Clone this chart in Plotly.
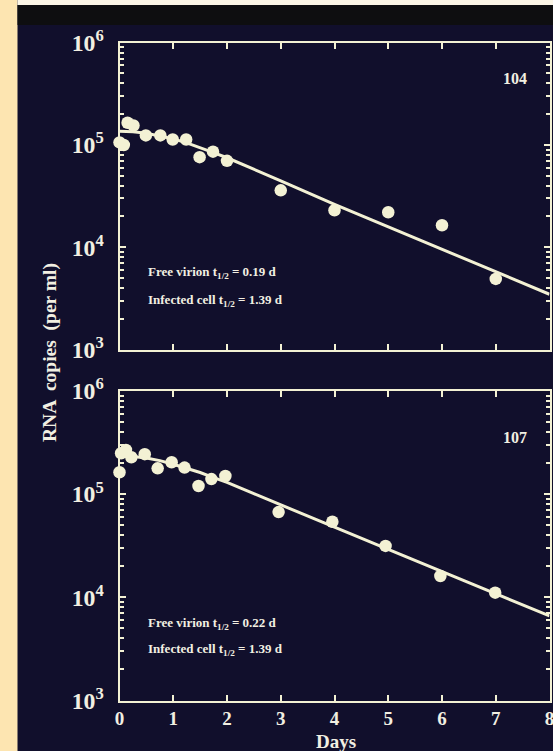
import plotly.graph_objects as go

# ---------------- data ----------------
days_104 = [0.0, 0.08, 0.15, 0.26, 0.49, 0.76, 0.99, 1.24, 1.49, 1.74, 2.0, 3.0, 4.0, 5.0, 6.0, 7.0]
rna_104 = [106000, 100000, 165000, 155000, 124000, 124000, 113000, 113000, 76000, 86000, 70000,
           36000, 23000, 22000, 16400, 4900]

fit_days_104 = [0, 0.25, 0.5, 0.75, 1.0, 1.25, 1.5, 1.75, 2.0, 2.5, 3, 4, 5, 6, 7, 8]
fit_log_104 = [5.135, 5.13, 5.115, 5.09, 5.06, 5.02, 4.975, 4.925, 4.875, 4.765, 4.65, 4.42, 4.2,
               3.98, 3.76, 3.54]

days_107 = [0.0, 0.03, 0.12, 0.22, 0.47, 0.71, 0.97, 1.21, 1.47, 1.71, 1.97, 2.96, 3.96, 4.95, 5.97, 6.99]
rna_107 = [163000, 249000, 268000, 228000, 244000, 178000, 204000, 181000, 120000, 140000, 150000,
           67000, 54000, 31500, 16100, 11100]

fit_days_107 = [0, 0.25, 0.5, 0.75, 1.0, 1.25, 1.5, 1.75, 2.0, 2.5, 3, 4, 5, 6, 7, 8]
fit_log_107 = [5.37, 5.365, 5.35, 5.325, 5.29, 5.25, 5.21, 5.16, 5.115, 5.005, 4.895, 4.68, 4.465,
               4.25, 4.035, 3.82]

panel_labels = ["104", "107"]
virion_half = ["0.19", "0.22"]
cell_half = ["1.39", "1.39"]
x_ticks = [0, 1, 2, 3, 4, 5, 6, 7, 8]

# ---------------- styling ----------------
W, H = 553, 751
BG = "#110f2c"
CREAM = "#f3f1d4"
TXT = "#f2efe2"
FONT = "Liberation Serif"

def px_x(x):
    return x / W

def px_y(y):
    return (H - y) / H

fig = go.Figure()

panels = [
    (days_104, rna_104, fit_days_104, fit_log_104, "x", "y"),
    (days_107, rna_107, fit_days_107, fit_log_107, "x2", "y2"),
]
for d, v, fd, fl, xa, ya in panels:
    fig.add_trace(go.Scatter(x=fd, y=[10 ** f for f in fl], mode="lines",
                             line=dict(color=CREAM, width=3), xaxis=xa, yaxis=ya,
                             showlegend=False, cliponaxis=False, hoverinfo="skip"))
    fig.add_trace(go.Scatter(x=d, y=v, mode="markers",
                             marker=dict(color=CREAM, size=12.5, line=dict(width=0)),
                             xaxis=xa, yaxis=ya, showlegend=False, cliponaxis=False))

xdom = [px_x(119.5), px_x(549.5)]
dom_top = [px_y(349.5), px_y(42.7)]
dom_bot = [px_y(700.5), px_y(391)]

axis_common = dict(showline=True, linecolor=CREAM, linewidth=2, mirror="ticks",
                   showgrid=False, zeroline=False, ticks="inside", tickcolor=CREAM,
                   tickwidth=2, automargin=False)

xcommon = dict(axis_common, range=[0, 8], tickvals=x_ticks, ticklen=6)
ycommon = dict(axis_common, type="log", range=[3, 6], dtick=1, ticklen=6,
               exponentformat="power",
               tickfont=dict(family=FONT, size=19, color=TXT, weight="bold"),
               ticklabelstandoff=10,
               minor=dict(ticks="inside", ticklen=4, tickcolor=CREAM, tickwidth=1.5,
                          dtick="D1", showgrid=False))

fig.update_layout(
    template="none",
    width=W, height=H,
    margin=dict(l=0, r=0, t=0, b=0, pad=0),
    paper_bgcolor=BG, plot_bgcolor=BG,
    xaxis=dict(xcommon, domain=xdom, anchor="y", showticklabels=False),
    yaxis=dict(ycommon, domain=dom_top, anchor="x"),
    xaxis2=dict(xcommon, domain=xdom, anchor="y2",
                tickfont=dict(family=FONT, size=19, color=TXT, weight="bold"),
                ticklabelstandoff=0, ticklabeloverflow="allow"),
    yaxis2=dict(ycommon, domain=dom_bot, anchor="x2"),
)

# frame decorations: cream strip on left, light strip on top, black band
fig.add_shape(type="rect", xref="paper", yref="paper", x0=0, x1=px_x(17.5), y0=0, y1=1,
              fillcolor="#fde5b1", line=dict(width=0), layer="below")
fig.add_shape(type="rect", xref="paper", yref="paper", x0=px_x(17.5), x1=1,
              y0=px_y(25), y1=px_y(5), fillcolor="#0e0e10", line=dict(width=0), layer="below")
fig.add_shape(type="rect", xref="paper", yref="paper", x0=px_x(17.5), x1=1,
              y0=px_y(5), y1=1, fillcolor="#fbf5e6", line=dict(width=0), layer="below")

ann = []
ann.append(dict(text="<b>RNA  copies  (per ml)</b>", x=px_x(50), y=px_y(353), xref="paper",
                yref="paper", textangle=-90, showarrow=False, xanchor="center",
                yanchor="middle", font=dict(family=FONT, size=19.5, color=TXT)))
ann.append(dict(text="<b>Days</b>", x=px_x(336), y=px_y(741), xref="paper", yref="paper",
                showarrow=False, xanchor="center", yanchor="middle",
                font=dict(family=FONT, size=19, color=TXT)))
label_y = [79, 437]
text_y = [(272, 300), (623, 649)]
for i in range(2):
    ann.append(dict(text="<b>%s</b>" % panel_labels[i], x=px_x(529), y=px_y(label_y[i]),
                    xref="paper", yref="paper", xanchor="right", yanchor="middle",
                    showarrow=False, font=dict(family=FONT, size=16, color=TXT)))
    ann.append(dict(text="<b>Free virion t<sub>1/2</sub> = %s d</b>" % virion_half[i],
                    x=px_x(146), y=px_y(text_y[i][0]), xref="paper", yref="paper",
                    xanchor="left", yanchor="middle", showarrow=False,
                    font=dict(family=FONT, size=13, color=TXT)))
    ann.append(dict(text="<b>Infected cell t<sub>1/2</sub> = %s d</b>" % cell_half[i],
                    x=px_x(146), y=px_y(text_y[i][1]), xref="paper", yref="paper",
                    xanchor="left", yanchor="middle", showarrow=False,
                    font=dict(family=FONT, size=13, color=TXT)))
fig.update_layout(annotations=ann)

fig.write_html("out.html")
